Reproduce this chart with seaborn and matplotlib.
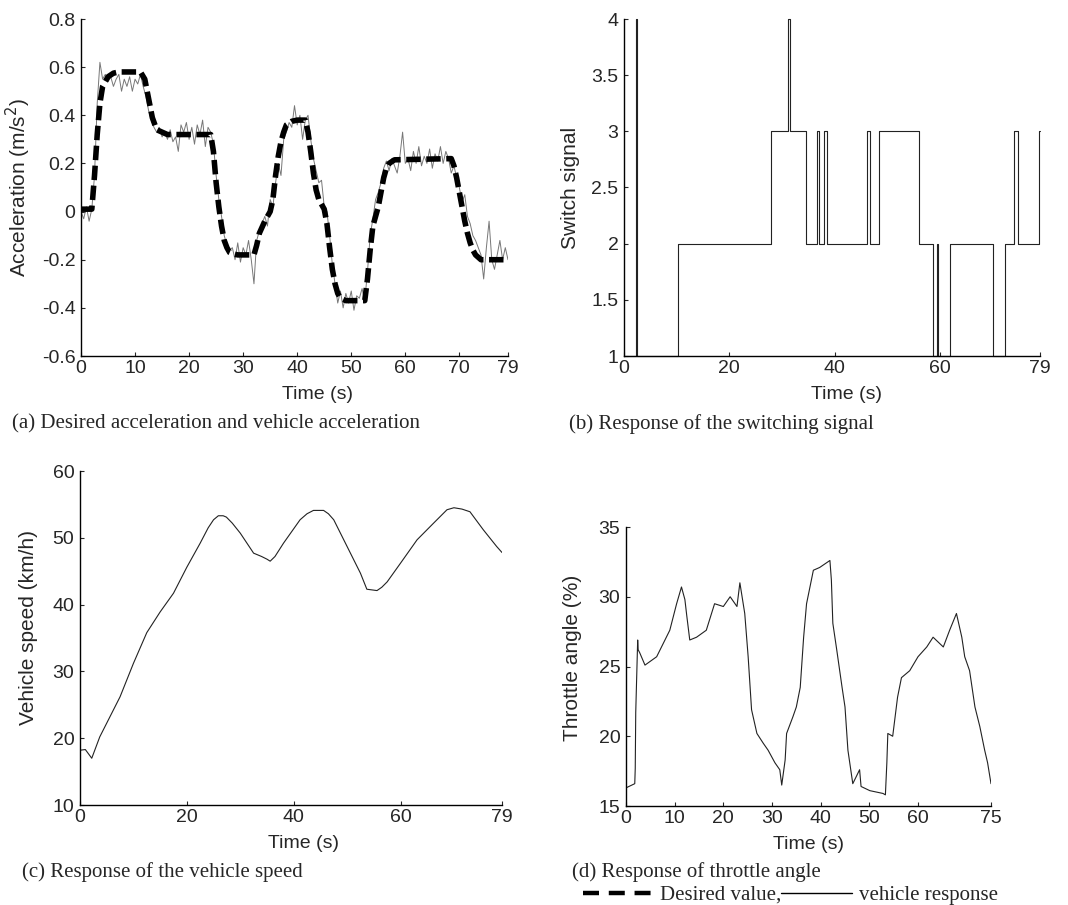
import numpy as np
import matplotlib
matplotlib.use("Agg")
import matplotlib.pyplot as plt
from matplotlib.lines import Line2D
import seaborn as sns

# ---- (a) acceleration: desired (breakpoints) and vehicle (every 0.5 s) ----
desired_t = [0, 2, 2.5, 3, 3.5, 4, 5, 6, 7, 11,
             11.8, 12.5, 13.2, 14, 15, 16, 24, 24.5, 25, 25.5,
             26, 26.5, 27, 27.5, 28, 29, 32, 32.5, 33, 34,
             35, 35.5, 36, 36.5, 37, 37.5, 38, 39, 40, 41.5,
             42, 42.5, 43, 43.5, 44, 45, 45.5, 46, 46.5, 47,
             47.5, 48, 49, 52.5, 53, 53.5, 54, 55, 55.5, 56,
             56.5, 57, 58, 68.5, 69, 69.5, 70, 70.5, 71, 71.5,
             72, 72.5, 73, 74, 79]
desired_acc = [0.01, 0.01, 0.15, 0.32, 0.45, 0.52, 0.56, 0.575, 0.58, 0.58,
               0.55, 0.47, 0.39, 0.34, 0.33, 0.32, 0.32, 0.25, 0.12, 0.02,
               -0.06, -0.12, -0.15, -0.17, -0.175, -0.18, -0.18, -0.14, -0.09, -0.04,
               0.0, 0.05, 0.15, 0.23, 0.29, 0.33, 0.36, 0.375, 0.38, 0.38,
               0.33, 0.25, 0.16, 0.09, 0.05, 0.01, -0.05, -0.15, -0.24, -0.30,
               -0.34, -0.36, -0.37, -0.37, -0.28, -0.16, -0.06, 0.02, 0.08, 0.14,
               0.18, 0.20, 0.215, 0.22, 0.19, 0.14, 0.08, 0.02, -0.04, -0.09,
               -0.13, -0.16, -0.18, -0.20, -0.20]

vehicle_acc = [0.00, -0.03, 0.02, -0.04, 0.01, 0.15, 0.45, 0.62, 0.55, 0.57,
               0.54, 0.56, 0.52, 0.55, 0.57, 0.50, 0.55, 0.52, 0.56, 0.50,
               0.55, 0.53, 0.57, 0.52, 0.48, 0.42, 0.38, 0.35, 0.33, 0.35,
               0.31, 0.33, 0.30, 0.34, 0.29, 0.31, 0.25, 0.36, 0.33, 0.37,
               0.30, 0.35, 0.28, 0.36, 0.32, 0.38, 0.27, 0.35, 0.33, 0.28,
               0.15, 0.05, -0.02, -0.10, -0.14, -0.16, -0.15, -0.20, -0.13, -0.21,
               -0.15, -0.18, -0.12, -0.20, -0.30, -0.12, -0.08, -0.05, -0.02, -0.06,
               0.05, 0.02, 0.12, 0.20, 0.15, 0.30, 0.33, 0.37, 0.35, 0.44,
               0.36, 0.40, 0.30, 0.38, 0.40, 0.30, 0.22, 0.17, 0.12, 0.13,
               0.02, 0.00, -0.10, -0.22, -0.30, -0.38, -0.33, -0.40, -0.34, -0.38,
               -0.33, -0.41, -0.35, -0.36, -0.32, -0.37, -0.25, -0.10, -0.03, 0.05,
               0.08, 0.12, 0.18, 0.21, 0.17, 0.22, 0.19, 0.16, 0.23, 0.33,
               0.20, 0.22, 0.17, 0.25, 0.20, 0.27, 0.19, 0.23, 0.20, 0.26,
               0.18, 0.24, 0.21, 0.27, 0.20, 0.25, 0.22, 0.16, 0.19, 0.14,
               0.10, 0.04, 0.07, -0.02, -0.05, -0.10, -0.12, -0.15, -0.18, -0.28,
               -0.15, -0.04, -0.20, -0.24, -0.18, -0.12, -0.20, -0.15, -0.20]
vehicle_t = np.linspace(0, 79, len(vehicle_acc))

# ---- (b) switching signal (change instants) ----
switch_t = [0, 2.2, 2.5, 10.3, 27.9, 31.2, 31.6, 34.6, 36.6, 37.0, 37.9, 38.5,
            46.1, 46.7, 48.4, 56.0, 58.6, 59.4, 59.7, 61.9, 70.0, 72.3, 74.0,
            74.8, 78.8, 79]
switch_v = [1, 4, 1, 2, 3, 4, 3, 2, 3, 2, 3, 2,
            3, 2, 3, 2, 1, 2, 1, 2, 1, 2, 3,
            2, 3, 3]

# ---- (c) vehicle speed ----
speed_t = [0, 1, 2.2, 3.7, 5.6, 7.5, 10, 12.5, 15, 17.5,
           20, 22.5, 24, 25, 25.9, 26.8, 27.4, 28.5, 30, 32.5,
           34, 35, 35.6, 36.5, 38.1, 41.2, 42.5, 43.7, 45.6, 46.5,
           47.5, 50, 52.5, 53.7, 55.6, 56.5, 57.5, 60, 63.1, 66.2,
           68.7, 70, 71.5, 73, 75.5, 78, 79]
speed_v = [18.2, 18.3, 17.0, 20.2, 23.2, 26.2, 31.2, 35.8, 38.9, 41.7,
           45.6, 49.2, 51.5, 52.7, 53.3, 53.3, 53.1, 52.2, 50.7, 47.7,
           47.2, 46.8, 46.5, 47.2, 49.2, 52.7, 53.6, 54.1, 54.1, 53.6,
           52.7, 48.7, 44.7, 42.3, 42.1, 42.6, 43.4, 46.2, 49.7, 52.2,
           54.2, 54.5, 54.3, 53.9, 51.2, 48.7, 47.8]

# ---- (d) throttle angle ----
throttle_t = [0, 1.8, 1.9, 2.0, 2.4, 2.5, 2.8, 3.9, 6.3, 9.0,
              10.4, 11.4, 12.1, 12.5, 13.1, 14.5, 16.5, 18.2, 20, 21.4,
              22.8, 23.4, 24.4, 25.1, 25.8, 26.9, 28.2, 29.2, 30.6, 31.6,
              32.0, 32.7, 33.0, 34.3, 35.0, 35.8, 36.5, 37.1, 38.5, 39.8,
              41.9, 42.2, 42.5, 43.3, 44.4, 45.0, 45.6, 46.6, 48.0, 48.3,
              50.1, 52.8, 53.3, 53.6, 53.8, 54.8, 55.8, 56.6, 58.3, 60,
              61.8, 63.1, 65.2, 66.5, 67.9, 69.0, 69.6, 70.6, 71.7, 72.7,
              73.7, 74.3, 75]
throttle_v = [16.3, 16.6, 17.7, 21.7, 26.9, 26.2, 26.0, 25.1, 25.7, 27.6,
              29.5, 30.7, 29.8, 28.6, 26.9, 27.1, 27.6, 29.5, 29.3, 30.0,
              29.3, 31.0, 28.8, 25.7, 21.9, 20.2, 19.5, 19.0, 18.1, 17.6,
              16.5, 18.3, 20.2, 21.4, 22.1, 23.5, 27.1, 29.5, 31.9, 32.1,
              32.6, 31.2, 28.1, 26.2, 23.5, 22.1, 19.0, 16.6, 17.6, 16.4,
              16.1, 15.9, 15.8, 18.1, 20.2, 20.0, 22.8, 24.2, 24.7, 25.7,
              26.4, 27.1, 26.4, 27.6, 28.8, 27.1, 25.7, 24.7, 22.1, 20.7,
              19.0, 18.1, 16.6]

# ticks
a_xticks = [0, 10, 20, 30, 40, 50, 60, 70, 79]
a_yticks = [-0.6, -0.4, -0.2, 0, 0.2, 0.4, 0.6, 0.8]
a_ylabels = ['-0.6', '-0.4', '-0.2', '0', '0.2', '0.4', '0.6', '0.8']
b_xticks = [0, 20, 40, 60, 79]
b_yticks = [1, 1.5, 2, 2.5, 3, 3.5, 4]
b_ylabels = ['1', '1.5', '2', '2.5', '3', '3.5', '4']
c_xticks = [0, 20, 40, 60, 79]
c_yticks = [10, 20, 30, 40, 50, 60]
d_xticks = [0, 10, 20, 30, 40, 50, 60, 75]
d_yticks = [15, 20, 25, 30, 35]

sns.set_style("ticks")
plt.rcParams['font.family'] = ['Liberation Sans', 'DejaVu Sans']
plt.rcParams['xtick.direction'] = 'in'
plt.rcParams['ytick.direction'] = 'in'
plt.rcParams['xtick.major.size'] = 3
plt.rcParams['ytick.major.size'] = 3
plt.rcParams['xtick.major.pad'] = 3
plt.rcParams['ytick.major.pad'] = 4
plt.rcParams['axes.linewidth'] = 1.0
plt.rcParams['axes.edgecolor'] = 'black'

W, H = 1068, 905
fig = plt.figure(figsize=(W / 100, H / 100), dpi=100)

# axes boxes in reference pixels: (left, right, top, bottom)
boxes = {'a': (81, 508, 19, 356), 'b': (624, 1040, 19, 356),
         'c': (80, 502, 471, 805), 'd': (626, 991, 527, 806)}
axs = {}
for k, (l, r, t, b) in boxes.items():
    axs[k] = fig.add_axes([l / W, 1 - b / H, (r - l) / W, (b - t) / H])
ax_a, ax_b, ax_c, ax_d = axs['a'], axs['b'], axs['c'], axs['d']

line_col = '#222222'

# (a)
sns.lineplot(x=vehicle_t, y=vehicle_acc, ax=ax_a, color='#777777', linewidth=0.7,
             estimator=None, sort=False)
sns.lineplot(x=desired_t, y=desired_acc, ax=ax_a, color='black', linewidth=4,
             estimator=None, sort=False, linestyle=(0, (2.6, 1.0)))
ax_a.set_xlim(0, 79)
ax_a.set_ylim(-0.6, 0.8)
ax_a.set_xticks(a_xticks)
ax_a.set_yticks(a_yticks)
ax_a.set_yticklabels(a_ylabels)
ax_a.set_ylabel('Acceleration (m/s$^2$)')

# (b)
sns.lineplot(x=switch_t, y=switch_v, ax=ax_b, color=line_col, linewidth=0.8,
             estimator=None, sort=False, drawstyle='steps-post', clip_on=False)
ax_b.set_xlim(0, 79)
ax_b.set_ylim(1, 4)
ax_b.set_xticks(b_xticks)
ax_b.set_yticks(b_yticks)
ax_b.set_yticklabels(b_ylabels)
ax_b.set_ylabel('Switch signal')

# (c)
sns.lineplot(x=speed_t, y=speed_v, ax=ax_c, color=line_col, linewidth=0.8,
             estimator=None, sort=False)
ax_c.set_xlim(0, 79)
ax_c.set_ylim(10, 60)
ax_c.set_xticks(c_xticks)
ax_c.set_yticks(c_yticks)
ax_c.set_ylabel('Vehicle speed (km/h)')

# (d)
sns.lineplot(x=throttle_t, y=throttle_v, ax=ax_d, color=line_col, linewidth=0.8,
             estimator=None, sort=False)
ax_d.set_xlim(0, 75)
ax_d.set_ylim(15, 35)
ax_d.set_xticks(d_xticks)
ax_d.set_yticks(d_yticks)
ax_d.set_ylabel('Throttle angle (%)')

# xlabel centre (axes fraction) and ylabel offsets (pixels left of axis, y fraction)
xlab_x = {'a': 0.555, 'b': 0.536, 'c': 0.53, 'd': 0.5}
ylab = {'a': (48, 0.5), 'b': (44, 0.5), 'c': (42, 0.53), 'd': (44, 0.53)}
for k, ax in axs.items():
    l, r, t, b = boxes[k]
    sns.despine(ax=ax)
    ax.tick_params(labelsize=14, width=0.8)
    ax.set_xlabel('Time (s)', fontsize=14)
    ax.yaxis.label.set_size(15)
    ax.xaxis.set_label_coords(xlab_x[k], -30 / (b - t))
    ax.yaxis.set_label_coords(-ylab[k][0] / (r - l), ylab[k][1])
    ax.grid(False)

serif = ['Liberation Serif', 'DejaVu Serif']
fig.text(12 / W, 1 - 424 / H, '(a) Desired acceleration and vehicle acceleration',
         family=serif, fontsize=15, va='center')
fig.text(569 / W, 1 - 424 / H, '(b) Response of the switching signal',
         family=serif, fontsize=15, va='center')
fig.text(22 / W, 1 - 872 / H, '(c) Response of the vehicle speed',
         family=serif, fontsize=15, va='center')
fig.text(572 / W, 1 - 872 / H, '(d) Response of throttle angle',
         family=serif, fontsize=15, va='center')

handles = [Line2D([], [], color='black', linewidth=3.2, linestyle=(0, (3.6, 2.2))),
           Line2D([], [], color='black', linewidth=1.0)]
fig.legend(handles, ['Desired value,', 'vehicle response'], loc='center left',
           bbox_to_anchor=(583 / W, 1 - 895 / H), ncol=2, frameon=False,
           prop={'family': serif, 'size': 15}, handlelength=3.4, handletextpad=0.3,
           columnspacing=0.0, borderpad=0, borderaxespad=0)

fig.savefig('out.png', dpi=100)
